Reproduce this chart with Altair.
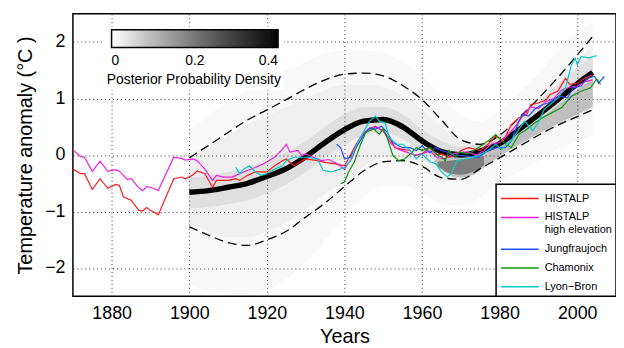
import altair as alt
import pandas as pd

FONT = "Liberation Sans"

# ---------------- observed series (year, anomaly °C) ----------------
histalp = [(1870,-0.25),(1872,-0.33),(1873,-0.33),(1875,-0.61),(1877,-0.42),(1879,-0.59),(1881,-0.52),
           (1882,-0.54),(1883,-0.74),(1885,-0.80),(1887,-0.98),(1888,-0.99),(1889,-0.93),(1890,-0.98),
           (1892,-1.06),(1894,-0.74),(1896,-0.42),(1898,-0.39),(1899,-0.42),(1901,-0.35),(1902,-0.28),
           (1904,-0.33),(1906,-0.57),(1907,-0.45),(1910,-0.45),(1912,-0.42),(1913,-0.45),(1915,-0.36),
           (1917,-0.30),(1920,-0.30),(1922,-0.19),(1924,-0.10),(1925,-0.07),(1927,-0.19),(1929,-0.10),
           (1930,-0.07),(1933,-0.10),(1935,-0.13),(1938,-0.16),(1940,-0.19),(1941,-0.07),(1943,0.19),
           (1945,0.40),(1947,0.48),(1948,0.51),(1949,0.46),(1950,0.43),(1952,0.25),(1953,0.13),(1955,0.10),
           (1957,0.08),(1958,-0.01),(1960,0.02),(1962,0.13),(1964,0.00),(1965,0.02),(1967,-0.04),(1969,0.00),
           (1970,0.08),(1972,0.13),(1975,0.08),(1977,0.19),(1979,0.34),(1981,0.25),(1983,0.54),(1985,0.66),
           (1987,0.72),(1988,0.89),(1990,0.92),(1992,0.98),(1993,1.07),(1995,1.13),(1997,1.36),(1998,1.25),
           (2000,1.27),(2002,1.36),(2004,1.42)]
histalp_high = [(1870,0.09),(1872,-0.03),(1873,-0.04),(1875,-0.29),(1877,-0.11),(1879,-0.29),(1881,-0.26),
                (1882,-0.29),(1884,-0.43),(1885,-0.42),(1887,-0.58),(1888,-0.63),(1889,-0.56),(1890,-0.57),
                (1892,-0.63),(1894,-0.33),(1896,-0.04),(1898,-0.06),(1899,-0.09),(1901,-0.07),(1902,-0.10),
                (1904,-0.25),(1906,-0.45),(1907,-0.36),(1909,-0.39),(1911,-0.39),(1912,-0.36),(1914,-0.30),
                (1917,-0.22),(1919,-0.16),(1922,-0.04),(1924,0.10),(1925,0.19),(1926,0.05),(1928,0.08),
                (1929,-0.01),(1930,0.02),(1932,-0.04),(1934,-0.10),(1936,-0.08),(1938,-0.15),(1940,-0.25),
                (1942,-0.05),(1944,0.30),(1946,0.45),(1948,0.50),(1950,0.42),(1952,0.20),(1954,0.10),
                (1956,0.05),(1958,0.00),(1960,0.02),(1962,0.07),(1964,-0.05),(1966,-0.06),(1968,0.02),
                (1970,0.05),(1972,0.05),(1974,0.00),(1976,0.08),(1978,0.20),(1980,0.22),(1982,0.35),
                (1984,0.50),(1986,0.70),(1988,0.85),(1990,0.82),(1992,0.95),(1994,1.00),(1996,1.15),
                (1998,1.20),(2000,1.22),(2002,1.30),(2004,1.33)]
jungfraujoch = [(1938,0.19),(1939,0.13),(1940,-0.07),(1941.5,-0.04),(1943,0.13),(1945,0.36),(1946.5,0.48),
                (1948,0.46),(1949.5,0.51),(1951,0.40),(1952.5,0.22),(1955,0.13),(1957,0.13),(1958.5,0.08),
                (1960,0.16),(1962,0.04),(1963.5,0.13),(1965,0.08),(1967,0.04),(1968.5,-0.01),(1970.5,-0.01),
                (1974.5,-0.04),(1977,0.08),(1979,0.13),(1981.5,0.13),(1983,0.25),(1985,0.60),(1986,0.72),
                (1987.5,0.69),(1989,0.81),(1991,0.89),(1992.5,0.92),(1994,0.98),(1996,1.04),(1997.5,1.01),
                (1999,1.19),(2001,1.22),(2002.5,1.36),(2004.5,1.39),(2005.5,1.27),(2007,1.39)]
chamonix = [(1939,-0.51),(1940,-0.48),(1941,-0.31),(1942.5,-0.13),(1944,0.16),(1945.5,0.40),(1947.5,0.46),
            (1949,0.37),(1950,0.46),(1951,0.31),(1952.5,-0.01),(1954,-0.10),(1955.5,-0.07),(1957,0.02),
            (1958.5,0.13),(1960,0.08),(1962,0.13),(1963.5,0.02),(1965,-0.04),(1966,-0.10),(1967,0.08),
            (1968.5,-0.04),(1969.5,0.05),(1972,0.02),(1974.5,0.13),(1977,0.25),(1979,0.36),(1980.5,0.25),
            (1983,0.13),(1985,0.37),(1986.5,0.43),(1988.5,0.54),(1991,0.66),(1993.5,0.75),(1996,0.84),
            (1998.5,1.04),(2001,1.13),(2003.5,1.19),(2005,1.35),(2006,1.25)]
lyon_bron = [(1912,-0.22),(1913,-0.33),(1914,-0.25),(1915.5,-0.19),(1917,-0.30),(1918.5,-0.36),(1920,-0.33),
             (1922,-0.25),(1924,-0.19),(1925,-0.10),(1927,-0.04),(1929,-0.04),(1931,-0.04),(1932,-0.07),
             (1933,-0.07),(1934.5,-0.27),(1936.5,-0.30),(1938,-0.27),(1940,-0.22),(1941.5,-0.10),(1943,0.16),
             (1945,0.42),(1946.5,0.60),(1948,0.69),(1949,0.60),(1950.5,0.57),(1951.5,0.31),(1953.5,0.19),
             (1955,0.19),(1957,0.08),(1958.5,-0.07),(1960,0.02),(1962,-0.12),(1963.5,-0.15),(1965,-0.30),
             (1966.5,-0.39),(1967.5,-0.33),(1969,-0.10),(1971.5,-0.07),(1974.5,-0.01),(1977,0.08),
             (1979,0.19),(1980.5,0.10),(1983,0.25),(1985,0.46),(1986.5,0.60),(1988.5,0.43),(1990,0.57),
             (1991.5,0.81),(1993.5,0.92),(1995,1.01),(1997,1.19),(1998.5,1.60),(1999.5,1.71),(2000,1.60),
             (2001,1.74),(2003,1.72),(2005,1.76)]

series_names = ["HISTALP", "HISTALP high elevation", "Jungfraujoch", "Chamonix", "Lyon\u2212Bron"]
series_colors = ["#ff1a1a", "#f01ee4", "#1f4fff", "#0a960a", "#00cccc"]
series_data = [histalp, histalp_high, jungfraujoch, chamonix, lyon_bron]

# ---------------- posterior mean and 95% bounds ----------------
model_years = [1900,1905,1910,1915,1920,1925,1930,1935,1940,1945,1950,1955,1960,1965,1970,1975,1980,1985,1990,1995,2000,2004]
post_mean  = [-0.66,-0.63,-0.57,-0.50,-0.38,-0.24,-0.03,0.22,0.45,0.60,0.63,0.50,0.25,0.06,0.00,0.07,0.20,0.45,0.71,0.98,1.26,1.46]
upper_95   = [-0.05,0.17,0.40,0.62,0.80,0.98,1.17,1.33,1.43,1.45,1.40,1.23,0.98,0.62,0.27,0.19,0.35,0.66,1.00,1.37,1.77,2.10]
lower_95   = [-1.27,-1.42,-1.55,-1.60,-1.50,-1.35,-1.10,-0.85,-0.56,-0.28,-0.12,-0.10,-0.20,-0.40,-0.43,-0.24,-0.05,0.15,0.35,0.53,0.68,0.80]

# ---------------- posterior density field, as shaded bands ----------------
band_years = model_years
band_a_lo = [-2.30,-2.40,-2.45,-2.45,-2.40,-2.20,-1.90,-1.50,-1.10,-0.75,-0.55,-0.55,-0.70,-0.85,-0.90,-0.75,-0.50,-0.30,-0.10,0.10,0.25,0.35]
band_a_hi = [0.45,0.70,0.95,1.15,1.35,1.50,1.65,1.80,1.85,1.85,1.80,1.65,1.40,1.05,0.70,0.60,0.80,1.10,1.45,1.85,2.20,2.35]
band_b_lo = [-1.20,-1.35,-1.45,-1.45,-1.35,-1.20,-0.95,-0.70,-0.45,-0.20,-0.05,-0.05,-0.15,-0.35,-0.40,-0.25,-0.05,0.15,0.33,0.50,0.65,0.77]
band_b_hi = [0.00,0.15,0.35,0.55,0.70,0.85,1.00,1.15,1.25,1.25,1.20,1.05,0.80,0.50,0.25,0.18,0.33,0.60,0.95,1.30,1.65,1.95]
band_c_lo = [-0.95,-0.92,-0.87,-0.80,-0.68,-0.52,-0.30,-0.05,0.18,0.35,0.40,0.28,0.05,-0.15,-0.25,-0.15,0.00,0.22,0.45,0.70,0.95,1.10]
band_c_hi = [-0.40,-0.37,-0.30,-0.22,-0.10,0.05,0.25,0.50,0.72,0.85,0.85,0.72,0.45,0.25,0.15,0.20,0.38,0.65,0.95,1.25,1.55,1.75]
band_d_years = [1963,1966,1969,1972,1976,1980,1985,1990,1995,2000,2004]
band_d_lo = [-0.15,-0.30,-0.40,-0.38,-0.22,-0.02,0.18,0.38,0.55,0.72,0.85]
band_d_hi = [-0.10,-0.05,-0.05,0.00,0.05,0.15,0.38,0.62,0.88,1.15,1.35]
band_e_years = [1964,1967,1970,1973,1976]
band_e_lo = [-0.20,-0.32,-0.35,-0.30,-0.18]
band_e_hi = [-0.12,-0.10,-0.08,-0.05,-0.02]
band_density = {"a": 0.01, "b": 0.022, "c": 0.045, "d": 0.09, "e": 0.19}

# ---------------- build tables ----------------
rows = []
for name, pts in zip(series_names, series_data):
    for y, v in pts:
        rows.append({"year": y, "value": v, "series": name})
df_series = pd.DataFrame(rows)

df_model = pd.DataFrame({"year": model_years, "mean": post_mean})
df_bounds = pd.concat([
    pd.DataFrame({"year": model_years, "value": upper_95, "which": "upper"}),
    pd.DataFrame({"year": model_years, "value": lower_95, "which": "lower"}),
])

def band_df(key, yrs, lo, hi):
    return pd.DataFrame({"year": yrs, "lo": lo, "hi": hi, "density": band_density[key]})

bands = [
    band_df("a", band_years, band_a_lo, band_a_hi),
    band_df("b", band_years, band_b_lo, band_b_hi),
    band_df("c", band_years, band_c_lo, band_c_hi),
    band_df("d", band_d_years, band_d_lo, band_d_hi),
    band_df("e", band_e_years, band_e_lo, band_e_hi),
]

x_scale = alt.Scale(domain=[1870, 2010], nice=False, zero=False)
y_scale = alt.Scale(domain=[-2.5, 2.5], nice=False)

x_axis = alt.Axis(title="Years", values=[1880, 1900, 1920, 1940, 1960, 1980, 2000], format="d",
                  labelPadding=8, titlePadding=5, zindex=1)
y_axis = alt.Axis(title="Temperature anomaly (\u00b0C )", values=[-2, -1, 0, 1, 2], format="d",
                  labelPadding=8, titlePadding=9, zindex=1)

dens_scale = alt.Scale(domain=[0, 0.4], range=["#ffffff", "#000000"])
dens_legend = alt.Legend(
    title="Posterior Probability Density", orient="none", legendX=31, legendY=13,
    direction="horizontal", gradientLength=168, gradientThickness=18,
    titleOrient="bottom", titleAnchor="middle", titleFontSize=14, titleFontWeight="normal",
    titleFont=FONT, labelFont=FONT, labelFontSize=14, values=[0, 0.2, 0.4], format="~g",
    labelAlign="center", labelOffset=7, titlePadding=5, labelColor="black", titleColor="black",
    gradientStrokeColor="black", gradientStrokeWidth=1.5,
    fillColor="white", padding=3, zindex=2,
)

band_layers = []
for b in bands:
    band_layers.append(
        alt.Chart(b).mark_area(interpolate="monotone", clip=True).encode(
            x=alt.X("year:Q", scale=x_scale, axis=x_axis),
            y=alt.Y("lo:Q", scale=y_scale, axis=y_axis),
            y2="hi:Q",
            color=alt.Color("density:Q", scale=dens_scale, legend=dens_legend),
        )
    )
density = alt.layer(*band_layers)

bounds = alt.Chart(df_bounds).mark_line(color="black", strokeWidth=1.3, strokeDash=[9, 5],
                                        interpolate="monotone").encode(
    x=alt.X("year:Q", scale=x_scale), y=alt.Y("value:Q", scale=y_scale), detail="which:N")

mean = alt.Chart(df_model).mark_line(color="black", strokeWidth=5.5, interpolate="monotone").encode(
    x=alt.X("year:Q", scale=x_scale), y=alt.Y("mean:Q", scale=y_scale))

series_legend = alt.Legend(
    title=None, orient="bottom-right", offset=0, strokeColor="black", fillColor="white",
    padding=4, symbolType="M-1,0H3", symbolSize=361, symbolStrokeWidth=1.5,
    labelFont=FONT, labelFontSize=11, labelColor="black", labelLimit=200, rowPadding=3,
    labelOffset=24, zindex=2,
    labelExpr="datum.label == 'HISTALP high elevation' ? ['HISTALP', 'high elevation'] : datum.label",
)

lines = alt.Chart(df_series).mark_line(strokeWidth=1.2, clip=True).encode(
    x=alt.X("year:Q", scale=x_scale),
    y=alt.Y("value:Q", scale=y_scale),
    color=alt.Color("series:N", scale=alt.Scale(domain=series_names, range=series_colors),
                    legend=series_legend),
)

chart = alt.layer(density, bounds, mean, lines).resolve_scale(color="independent").resolve_legend(
    color="independent"
).properties(
    width=548, height=285,
    autosize=alt.AutoSizeParams(type="none"),
    padding={"left": 65.5, "top": 4.3, "right": 0, "bottom": 51},
).configure_view(stroke="black", strokeWidth=1.5).configure_axis(
    grid=True, gridDash=[1, 3], gridColor="#333333", gridWidth=1, gridOpacity=1,
    domain=False, ticks=False, tickSize=0,
    labelFont=FONT, titleFont=FONT, labelFontSize=18, titleFontSize=20, titleFontWeight="normal",
    labelColor="black", titleColor="black",
).configure_legend(strokeWidth=1.5)

chart.save("out.html", embed_options={"renderer": "svg", "actions": False})
